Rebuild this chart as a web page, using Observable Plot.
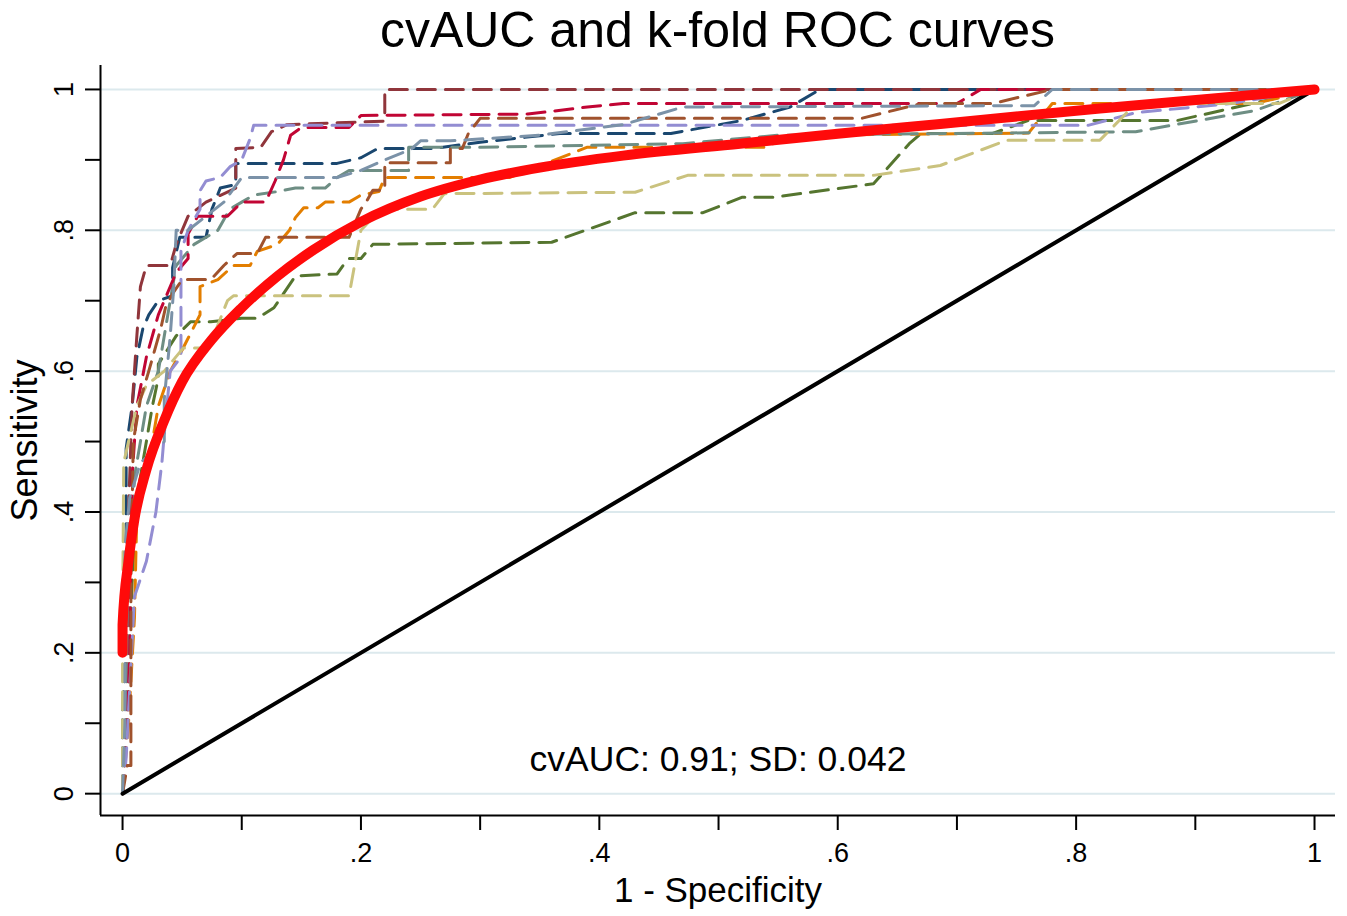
<!DOCTYPE html>
<html><head><meta charset="utf-8">
<script src="https://cdn.jsdelivr.net/npm/d3@7"></script>
<script src="https://cdn.jsdelivr.net/npm/@observablehq/plot@0.6"></script>
<style>
html,body{margin:0;padding:0;background:#fff;}
body{font-family:"Liberation Sans",Arial,Helvetica,sans-serif;width:1347px;}
#title{box-sizing:border-box;width:1347px;height:60px;line-height:60px;font-size:50px;text-align:center;padding-left:100px;padding-right:12px;color:#000;}
</style></head><body>
<div id="title">cvAUC and k-fold ROC curves</div>
<div id="chart"></div>
<script>
// ---- data ----
const majorTicks = [0, 0.2, 0.4, 0.6, 0.8, 1];
const minorTicks = [0.1, 0.3, 0.5, 0.7, 0.9];
const tickLabels = ["0", ".2", ".4", ".6", ".8", "1"];

const foldNames = ["navy","maroon","forest_green","dkorange","teal","cranberry","lavender","khaki","sienna","emidblue"];
const foldColors = ["#1a476f","#90353b","#55752f","#e37e00","#6e8e84","#c10534","#938dd2","#cac27e","#a0522d","#7b92a8"];

const foldNavy = [[0,0],[0,0.12],[0.003,0.2],[0.003,0.49],[0.008,0.55],[0.012,0.62],[0.017,0.66],[0.022,0.68],[0.03,0.70],[0.042,0.707],[0.042,0.747],[0.048,0.79],[0.07,0.79],[0.075,0.83],[0.082,0.86],[0.095,0.865],[0.095,0.895],[0.18,0.895],[0.2,0.903],[0.214,0.916],[0.26,0.916],[0.3,0.925],[0.367,0.9375],[0.46,0.9375],[0.52,0.956],[0.56,0.975],[0.585,1],[1,1]];
const foldMaroon = [[0,0],[0.002,0.05],[0.004,0.2],[0.005,0.4],[0.008,0.55],[0.012,0.65],[0.015,0.72],[0.02,0.75],[0.04,0.75],[0.045,0.78],[0.055,0.82],[0.07,0.84],[0.095,0.86],[0.095,0.916],[0.116,0.918],[0.125,0.94],[0.138,0.95],[0.22,0.955],[0.22,1],[1,1]];
const foldForest = [[0,0],[0.004,0.1],[0.008,0.3],[0.012,0.42],[0.02,0.5],[0.025,0.55],[0.03,0.59],[0.03,0.61],[0.045,0.65],[0.057,0.67],[0.074,0.67],[0.1,0.675],[0.113,0.675],[0.127,0.69],[0.135,0.71],[0.145,0.735],[0.18,0.738],[0.185,0.75],[0.19,0.76],[0.2,0.76],[0.21,0.78],[0.36,0.783],[0.43,0.825],[0.487,0.825],[0.52,0.847],[0.546,0.847],[0.63,0.866],[0.66,0.923],[0.67,0.9375],[0.73,0.9375],[0.76,0.956],[0.885,0.956],[1,1]];
const foldOrange = [[0,0],[0.005,0.1],[0.01,0.25],[0.012,0.4],[0.02,0.45],[0.025,0.5],[0.03,0.55],[0.04,0.6],[0.05,0.63],[0.065,0.68],[0.065,0.72],[0.08,0.73],[0.093,0.75],[0.107,0.75],[0.113,0.77],[0.13,0.78],[0.14,0.8],[0.145,0.818],[0.152,0.832],[0.164,0.832],[0.17,0.84],[0.19,0.84],[0.2,0.85],[0.215,0.855],[0.22,0.875],[0.325,0.875],[0.39,0.918],[0.54,0.918],[0.56,0.935],[0.76,0.938],[0.78,0.98],[0.95,0.98],[1,1]];
const foldTeal = [[0,0],[0.003,0.1],[0.006,0.3],[0.01,0.45],[0.02,0.55],[0.03,0.6],[0.04,0.7],[0.045,0.75],[0.06,0.78],[0.08,0.8],[0.09,0.83],[0.1,0.84],[0.11,0.85],[0.13,0.855],[0.145,0.86],[0.17,0.86],[0.18,0.875],[0.19,0.885],[0.24,0.885],[0.24,0.918],[0.3,0.918],[0.47,0.923],[0.55,0.935],[0.85,0.94],[0.95,0.97],[1,1]];
const foldCranberry = [[0,0],[0.004,0.1],[0.006,0.2],[0.008,0.45],[0.012,0.55],[0.02,0.62],[0.03,0.68],[0.045,0.74],[0.055,0.76],[0.055,0.795],[0.063,0.82],[0.088,0.82],[0.1,0.84],[0.12,0.84],[0.128,0.87],[0.135,0.9],[0.141,0.935],[0.15,0.946],[0.19,0.946],[0.2,0.963],[0.34,0.965],[0.39,0.975],[0.42,0.98],[0.7,0.98],[0.72,1],[1,1]];
const foldLavender = [[0,0],[0.003,0.05],[0.006,0.15],[0.01,0.28],[0.02,0.33],[0.028,0.4],[0.033,0.47],[0.036,0.53],[0.04,0.6],[0.049,0.62],[0.049,0.77],[0.055,0.8],[0.065,0.83],[0.065,0.856],[0.07,0.87],[0.082,0.875],[0.09,0.89],[0.1,0.9],[0.107,0.93],[0.11,0.949],[0.81,0.949],[0.85,0.967],[0.93,0.98],[1,1]];
const foldKhaki = [[0,0],[0,0.25],[0.001,0.47],[0.005,0.5],[0.012,0.55],[0.02,0.58],[0.035,0.6],[0.051,0.633],[0.068,0.633],[0.074,0.64],[0.088,0.70],[0.093,0.707],[0.19,0.707],[0.2,0.80],[0.21,0.818],[0.22,0.83],[0.26,0.83],[0.27,0.852],[0.43,0.854],[0.474,0.878],[0.63,0.878],[0.686,0.892],[0.742,0.928],[0.82,0.928],[0.85,0.98],[0.97,0.98],[1,1]];
const foldSienna = [[0,0],[0.004,0.04],[0.007,0.04],[0.007,0.3],[0.009,0.5],[0.015,0.56],[0.022,0.6],[0.032,0.66],[0.036,0.69],[0.042,0.71],[0.05,0.73],[0.074,0.73],[0.085,0.75],[0.096,0.767],[0.113,0.767],[0.12,0.79],[0.19,0.79],[0.2,0.83],[0.205,0.842],[0.21,0.857],[0.22,0.857],[0.22,0.896],[0.275,0.896],[0.275,0.916],[0.285,0.916],[0.29,0.937],[0.3,0.959],[0.62,0.959],[0.67,0.98],[0.73,0.98],[0.78,1],[1,1]];
const foldEmidblue = [[0,0],[0.002,0.1],[0.002,0.35],[0.006,0.42],[0.015,0.47],[0.035,0.5],[0.035,0.56],[0.04,0.65],[0.043,0.72],[0.045,0.8],[0.055,0.8],[0.07,0.82],[0.085,0.84],[0.1,0.875],[0.18,0.875],[0.2,0.885],[0.22,0.9],[0.242,0.915],[0.25,0.927],[0.275,0.927],[0.35,0.935],[0.42,0.95],[0.47,0.975],[0.765,0.977],[0.78,1],[1,1]];

const meanCurve = [[0,0.20],[0,0.24],[0.005,0.33],[0.01,0.39],[0.02,0.46],[0.035,0.53],[0.05,0.585],[0.075,0.645],[0.1,0.69],[0.13,0.735],[0.16,0.772],[0.2,0.812],[0.25,0.848],[0.3,0.872],[0.35,0.889],[0.42,0.906],[0.518,0.923],[0.6,0.937],[0.686,0.951],[0.82,0.973],[1,1]];
const diagonal = [[0,0],[1,1]];
const annotation = "cvAUC: 0.91; SD: 0.042";
const xLabel = "1 - Specificity";
const yLabel = "Sensitivity";

// ---- build tables ----
const foldArrays = [foldNavy, foldMaroon, foldForest, foldOrange, foldTeal, foldCranberry, foldLavender, foldKhaki, foldSienna, foldEmidblue];
const foldRows = foldArrays.flatMap((arr, i) => arr.map(([fpr, tpr]) => ({fold: foldNames[i], fpr, tpr})));
const meanRows = meanCurve.map(([fpr, tpr]) => ({fpr, tpr}));
const diagRows = diagonal.map(([fpr, tpr]) => ({fpr, tpr}));

const xDomain = [-0.0185, 1.0176];
const yDomain = [-0.031, 1.034];
const fmt = d => tickLabels[majorTicks.indexOf(d)];
const font = "'Liberation Sans', Arial, Helvetica, sans-serif";

const chart = Plot.plot({
  width: 1347, height: 856,
  marginLeft: 100, marginRight: 12, marginTop: 5, marginBottom: 101,
  x: {domain: xDomain},
  y: {domain: yDomain},
  color: {domain: foldNames, range: foldColors},
  style: {fontFamily: font, fontSize: "27px", color: "#000", background: "#fff", overflow: "visible"},
  marks: [
    Plot.gridY(majorTicks, {stroke: "#dce9ed", strokeOpacity: 1, strokeWidth: 2}),
    Plot.line(foldRows, {x: "fpr", y: "tpr", z: "fold", stroke: "fold", strokeWidth: 3, strokeDasharray: "18,10"}),
    Plot.line(diagRows, {x: "fpr", y: "tpr", stroke: "#000", strokeWidth: 4}),
    Plot.line(meanRows, {x: "fpr", y: "tpr", stroke: "#ff0a0a", strokeWidth: 10, strokeLinecap: "round", strokeLinejoin: "round", curve: "monotone-x"}),
    Plot.ruleX([xDomain[0]], {stroke: "#000", strokeWidth: 2}),
    Plot.ruleY([yDomain[0]], {stroke: "#000", strokeWidth: 2}),
    Plot.axisX(majorTicks, {tickSize: 15, tickPadding: 12, tickFormat: fmt, strokeWidth: 2, label: null, fontSize: 27}),
    Plot.axisX(minorTicks, {tickSize: 15, tickFormat: () => "", strokeWidth: 2, label: null}),
    Plot.axisY(majorTicks, {tickSize: 15, tickPadding: 13, tickRotate: -90, tickFormat: fmt, strokeWidth: 2, label: null, fontSize: 27}),
    Plot.axisY(minorTicks, {tickSize: 15, tickFormat: () => "", strokeWidth: 2, label: null}),
    Plot.text([annotation], {frameAnchor: "bottom", dy: -45, fontSize: 35.5, fill: "#000"}),
    Plot.text([xLabel], {frameAnchor: "bottom", dy: 86, fontSize: 35, fill: "#000"}),
    Plot.text([yLabel], {frameAnchor: "left", dx: -75, rotate: -90, textAnchor: "middle", fontSize: 36, fill: "#000"})
  ]
});
document.getElementById("chart").appendChild(chart);
</script>
</body></html>
